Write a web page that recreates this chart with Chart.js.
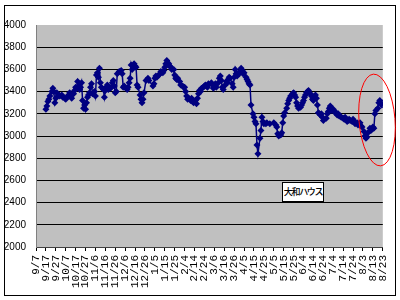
<!DOCTYPE html>
<html>
<head>
<meta charset="utf-8">
<script src="https://cdn.jsdelivr.net/npm/chart.js@4.4.0/dist/chart.umd.min.js"></script>
<style>
  html, body { margin: 0; padding: 0; background: #fff; }
  #wrap { position: relative; width: 400px; height: 300px; }
  #label {
    position: absolute; left: 282px; top: 182px; width: 40px; height: 18px;
    background: #fff; border: 1px solid #000;
    font-family: "Noto Sans CJK JP", sans-serif; font-size: 9px; line-height: 18px;
    letter-spacing: -1.3px; font-weight: 500;
    text-align: center; color: #000; white-space: nowrap; overflow: hidden;
  }
</style>
</head>
<body>
<div id="wrap">
  <canvas id="c" width="400" height="300"></canvas>
  <div id="label">大和ハウス</div>
</div>
<script>
// Day offsets from 9/7 (x positions in calendar days)
const days = [10,11,12,13,14,16,17,18,19,20,21,23,24,26,27,29,30,31,33,34,35,36,38,39,40,41,42,43,44,45,46,47,48,49,50,51,52,53,54,55,56,57,
59,60,61,62,63,64,65,66,68,69,70,71,72,73,75,76,77,78,79,80,81,82,84,86,87,88,89,91,92,93,94,95,96,97,98,99,100,101,102,103,105,106,107,108,109,111,113,114,
118,119,120,121,122,124,125,126,128,129,130,131,132,133,134,135,136,137,139,140,141,142,143,145,146,148,149,150,151,152,153,154,156,157,158,159,161,162,163,164,165,166,167,169,170,171,172,173,174,
177,178,179,180,181,182,184,185,186,187,188,189,191,192,193,194,195,196,198,199,200,201,202,203,205,206,207,208,209,210,212,213,214,215,216,217,219,220,221,222,223,224,226,227,228,229,230,232,233,236,240,242,243,244,245,247,248,249,250,251,253,254,255,256,257,259,260,261,262,263,264,265,267,268,269,270,271,272,273,274,275,277,278,279,280,281,282,283,284,285,286,287,288,289,290,
293,294,295,296,297,298,300,301,302,303,304,305,306,307,308,310,311,312,314,315,316,317,319,320,321,322,324,325,326,327,328,329,331,332,333,334,335,337,338,339,340,341,342,343,345,346,347,348,349,350];

// Daiwa House closing prices
const values = [3240,3270,3310,3330,3360,3400,3430,3400,3300,3340,3390,3370,3360,3370,3350,3340,3330,3350,3370,3390,3360,3340,3380,3410,3440,3430,3490,3450,3420,3440,3480,3320,3250,3280,3240,3300,3350,3370,3390,3440,3470,3380,
3400,3360,3550,3570,3530,3610,3480,3440,3420,3350,3410,3440,3460,3420,3430,3440,3480,3500,3450,3390,3400,3560,3580,3590,3560,3440,3450,3430,3420,3440,3480,3520,3640,3600,3630,3650,3630,3620,3460,3440,3370,3330,3300,3330,3390,3500,3520,3500,
3450,3470,3520,3540,3530,3550,3560,3580,3570,3590,3620,3650,3680,3660,3650,3630,3620,3600,3600,3550,3520,3510,3520,3490,3460,3450,3440,3440,3400,3360,3330,3340,3320,3340,3310,3300,3320,3290,3340,3380,3410,3400,3430,3440,3450,3460,3450,3440,3470,
3480,3460,3430,3450,3470,3440,3480,3520,3540,3500,3440,3420,3460,3490,3480,3510,3530,3520,3470,3440,3530,3600,3560,3540,3560,3580,3610,3590,3560,3570,3530,3510,3490,3470,3460,3280,3200,3170,3130,3110,2920,2840,2980,3050,3170,3130,3110,3110,3120,3110,3120,3100,3080,3020,3000,3010,3030,3120,3180,3210,3250,3290,3320,3340,3360,3380,3390,3370,3350,3300,3270,3250,3260,3280,3300,3320,3350,3370,3390,3400,3410,3380,3360,3330,3320,3350,3370,3340,3280,3210,3200,3190,3200,3170,3140,
3160,3200,3220,3250,3270,3230,3240,3220,3210,3210,3190,3200,3180,3180,3170,3160,3150,3170,3130,3140,3150,3140,3130,3150,3130,3110,3120,3100,3110,3120,3090,3080,3040,3000,2980,2990,3030,3070,3050,3060,3080,3070,3200,3230,3250,3300,3320,3290,3280,3300];

const tickLabels = ['9/7','9/17','9/27','10/7','10/17','10/27','11/6','11/16','11/26','12/6','12/16','12/26','1/5','1/15','1/25','2/4','2/14','2/24','3/6','3/16','3/26','4/5','4/15','4/25','5/5','5/15','5/25','6/4','6/14','6/24','7/4','7/14','7/24','8/3','8/13','8/23'];

const yMin = 2000, yMax = 4000, yStep = 200;
const xStep = 10, xMax = (tickLabels.length - 1) * xStep;

const points = days.map((d, i) => ({ x: d, y: values[i] }));

const decor = {
  id: 'decor',
  beforeDraw(chart) {
    const { ctx, chartArea: a } = chart;
    ctx.save();
    ctx.fillStyle = '#fff';
    ctx.fillRect(0, 0, chart.width, chart.height);
    ctx.fillStyle = '#c0c0c0';
    ctx.fillRect(a.left, a.top, a.right - a.left, a.bottom - a.top);
    ctx.restore();
  },
  afterDraw(chart) {
    const { ctx } = chart;
    ctx.save();
    ctx.strokeStyle = '#000';
    ctx.lineWidth = 1;
    ctx.strokeRect(4.5, 5.5, 391, 290);
    ctx.strokeStyle = '#ff0000';
    ctx.beginPath();
    ctx.ellipse(377, 120, 18, 46, -0.08, 0, Math.PI * 2);
    ctx.stroke();
    ctx.restore();
  }
};

new Chart(document.getElementById('c'), {
  type: 'line',
  data: {
    datasets: [{
      data: points,
      borderColor: '#000080',
      backgroundColor: '#000080',
      borderWidth: 1.5,
      pointStyle: 'rectRot',
      pointRadius: 3.5,
      pointBorderWidth: 0,
      tension: 0
    }]
  },
  options: {
    responsive: false,
    animation: false,
    layout: { padding: { left: 4, top: 25, right: 17, bottom: 4 } },
    plugins: { legend: { display: false }, tooltip: { enabled: false } },
    scales: {
      x: {
        type: 'linear', min: 0, max: xMax,
        afterFit: s => { s.height = 49; },
        afterBuildTicks: s => { s.ticks = tickLabels.map((_, i) => ({ value: i * xStep })); },
        ticks: {
          autoSkip: false, minRotation: 90, maxRotation: 90, padding: 4,
          color: '#000', font: { family: '"Liberation Mono", monospace', size: 11 },
          callback: (v, i) => tickLabels[i]
        },
        grid: { drawOnChartArea: false, drawTicks: true, tickLength: 4, color: '#000' },
        border: { display: true, color: '#404040', width: 1 }
      },
      y: {
        min: yMin, max: yMax,
        afterFit: s => { s.width = 32; },
        ticks: {
          stepSize: yStep, padding: 10, color: '#000',
          font: { family: '"Liberation Sans", Arial, sans-serif', size: 10 },
          callback: v => String(v)
        },
        grid: {
          drawTicks: false,
          color: c => (c.tick && c.tick.value === yMax) ? 'rgba(0,0,0,0)' : '#000',
          lineWidth: 1
        },
        border: { display: true, color: '#808080', width: 1 }
      }
    }
  },
  plugins: [decor]
});
</script>
</body>
</html>
